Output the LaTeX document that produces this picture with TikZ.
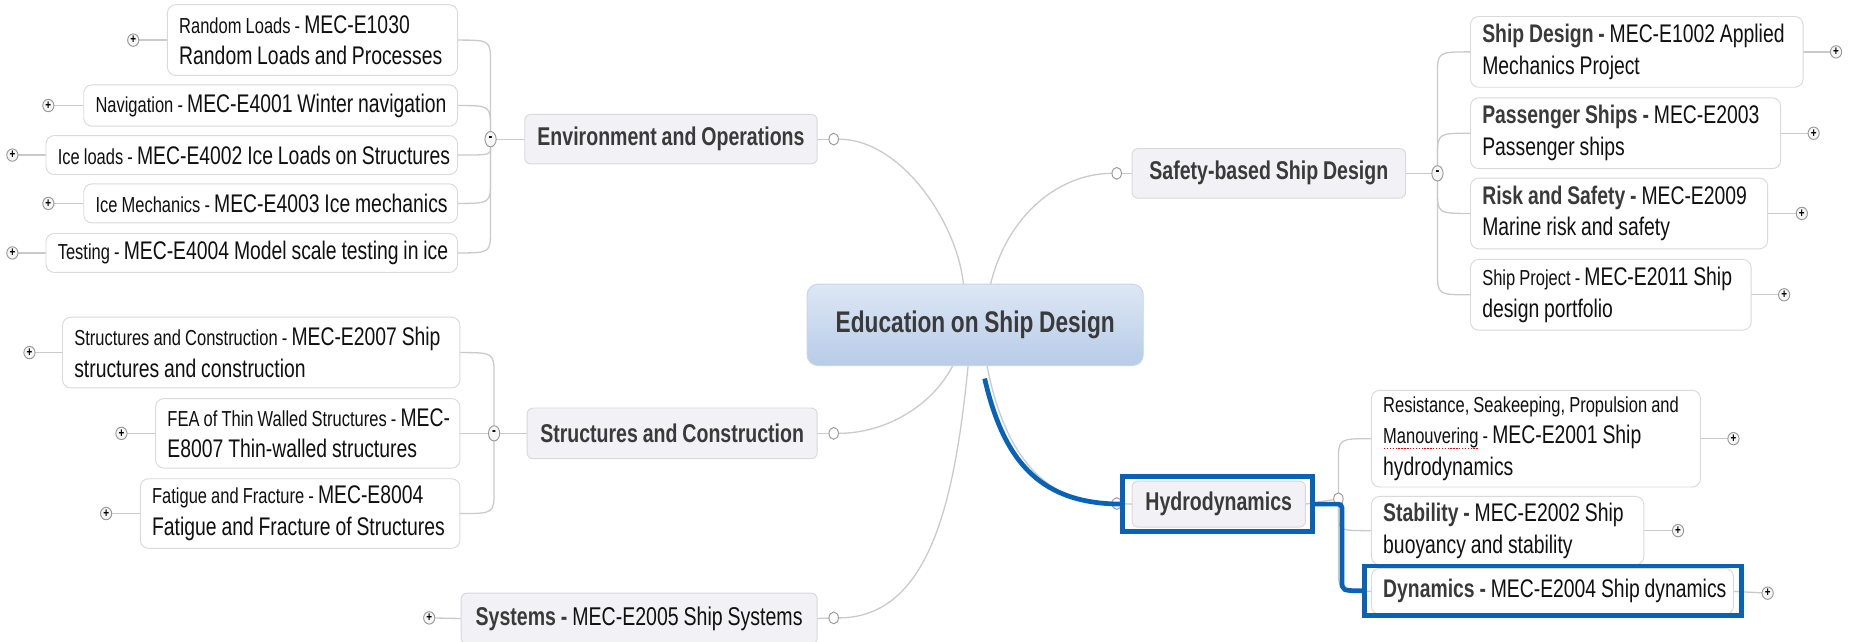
\documentclass[tikz,border=0pt]{standalone}
\usepackage{fontspec}
\setmainfont{Liberation Sans}[FakeStretch=0.76,WordSpace=0.9]
\usetikzlibrary{calc,shapes.geometric}
\definecolor{connc}{HTML}{CACACA}
\definecolor{boxline}{HTML}{DADADA}
\definecolor{branchfill}{HTML}{F1F1F6}
\definecolor{branchline}{HTML}{D8D8DE}
\definecolor{rootTop}{HTML}{DDE7F5}
\definecolor{rootBot}{HTML}{B7CCE8}
\definecolor{rootline}{HTML}{C9D6E8}
\definecolor{hl}{HTML}{0862B8}
\definecolor{txt}{HTML}{101010}
\definecolor{btxt}{HTML}{3A3A3A}
\definecolor{circline}{HTML}{999999}
\definecolor{circfill}{HTML}{F6F6F6}
\newcommand{\smf}{\fontsize{18.4}{26.9}\selectfont}
\newcommand{\lgf}{\fontsize{21.6}{26.9}\selectfont}
\newcommand{\bd}{\bfseries\color{btxt}}
\newlength\spw
\newcommand\spellmark[1]{\settowidth\spw{#1}\leavevmode\rlap{\raisebox{-4.5pt}{\color{red}\hbox to\spw{\xleaders\hbox to 2.4pt{\hss\rule{1.2pt}{1.2pt}\hss}\hfill}}}#1}
\pgfdeclarelayer{bgfill}
\pgfdeclarelayer{links}
\pgfsetlayers{bgfill,links,main}
\tikzset{
  leaf/.style={draw=boxline, fill=white, rounded corners=7pt, line width=0.8pt, inner xsep=10pt, inner ysep=0pt, outer sep=0pt, align=left, font=\lgf, text=txt, anchor=north west, execute at begin node={\spaceskip=0pt\xspaceskip=0pt\relax}},
  branch/.style={draw=branchline, fill=branchfill, rounded corners=5pt, line width=0.8pt, inner sep=0pt, outer sep=0pt, align=center, font=\fontsize{21.8}{26}\selectfont\bfseries, text=btxt, anchor=north west, execute at begin node={\spaceskip=0pt\xspaceskip=0pt\relax}},
  rootbox/.style={draw=rootline, top color=rootTop, bottom color=rootBot, rounded corners=9pt, line width=0.8pt, inner sep=0pt, outer sep=0pt, font=\fontsize{25.3}{30}\selectfont\bfseries, text=btxt, anchor=north west},
  plusc/.style={ellipse, draw=circline, fill=circfill, line width=0.8pt, minimum width=9.5pt, minimum height=10.5pt, inner sep=0pt, outer sep=0pt, font=\fontsize{11}{11}\selectfont\bfseries, text=black},
  minusc/.style={ellipse, draw=circline, fill=circfill, line width=0.8pt, minimum width=9.5pt, minimum height=13pt, inner sep=0pt, outer sep=0pt, font=\fontsize{13}{13}\selectfont\bfseries, text=black},
  openc/.style={ellipse, draw=circline, fill=white, line width=0.8pt, minimum width=8pt, minimum height=10pt, inner sep=0pt, outer sep=0pt},
  conn/.style={draw=connc, line width=1.1pt},
  hlbox/.style={draw=hl, line width=4pt, inner sep=0pt, outer sep=0pt, anchor=north west},
  hlline/.style={draw=hl, line width=4pt}
}
\begin{document}
\begin{tikzpicture}[x=1pt,y=-1pt]
\begin{pgfonlayer}{bgfill}
\fill[white] (0,0) rectangle (1568,543.6);
\end{pgfonlayer}
\useasboundingbox (0,0) rectangle (1568,543.6);

% root
\node[rootbox, minimum width=285pt, minimum height=69pt] (root) at (684.5,241) {Education on Ship Design};

% ---------- Environment and Operations
\node[leaf, text width=226pt, minimum height=60pt] (rl) at (142,4) {\mbox{{\smf Random Loads - }MEC-E1030}\\\mbox{Random Loads and Processes}};
\node[leaf, text width=297pt, minimum height=35pt] (nv) at (71,72) {\mbox{{\smf Navigation - }MEC-E4001 Winter navigation}};
\node[leaf, text width=329pt, minimum height=33pt] (il) at (39,115) {\mbox{{\smf Ice loads - }MEC-E4002 Ice Loads on Structures}};
\node[leaf, text width=297pt, minimum height=33pt] (im) at (71,156) {\mbox{{\smf Ice Mechanics - }MEC-E4003 Ice mechanics}};
\node[leaf, text width=329pt, minimum height=33pt] (ts) at (39,198) {\mbox{{\smf Testing - }MEC-E4004 Model scale testing in ice}};
\node[plusc] (prl) at (113,34) {+};
\node[plusc] (pnv) at (41,89.5) {+};
\node[plusc] (pil) at (10.5,131.5) {+};
\node[plusc] (pim) at (41,172.5) {+};
\node[plusc] (pts) at (10.5,214.5) {+};
\node[minusc] (me) at (416,118) {-};
\node[branch, minimum width=248pt, minimum height=42pt] (env) at (445,97) {Environment and Operations};
\node[openc] (oe) at (707,118) {};

% ---------- Structures and Construction
\node[leaf, text width=317pt, minimum height=60pt] (sc) at (53,269) {\mbox{{\smf Structures and Construction - }MEC-E2007 Ship}\\\mbox{structures and construction}};
\node[leaf, text width=238pt, minimum height=59pt] (fea) at (132,338) {\mbox{{\smf FEA of Thin Walled Structures - }MEC-}\\\mbox{E8007 Thin-walled structures}};
\node[leaf, text width=251pt, minimum height=59pt] (ff) at (119,406) {\mbox{{\smf Fatigue and Fracture - }MEC-E8004}\\\mbox{Fatigue and Fracture of Structures}};
\node[plusc] (psc) at (25,299) {+};
\node[plusc] (pfea) at (103,367.5) {+};
\node[plusc] (pff) at (90,435.5) {+};
\node[minusc] (ms) at (419,367.5) {-};
\node[branch, minimum width=246pt, minimum height=43pt] (str) at (447,346) {Structures and Construction};
\node[openc] (os) at (707,367.5) {};

% ---------- Systems
\node[branch, minimum width=302pt, minimum height=43pt] (sys) at (391,503) {\mbox{Systems - {\mdseries\color{txt}MEC-E2005 Ship Systems}}};
\node[plusc] (psys) at (364,524) {+};
\node[openc] (osys) at (707,524) {};

% ---------- Safety-based Ship Design
\node[branch, minimum width=232pt, minimum height=42pt] (saf) at (960,126) {Safety-based Ship Design};
\node[openc] (osf) at (947,147) {};
\node[minusc] (msf) at (1219,147) {-};
\node[leaf, text width=262pt, minimum height=60pt] (sd) at (1247,14) {\mbox{{\bd Ship Design -} MEC-E1002 Applied}\\\mbox{Mechanics Project}};
\node[leaf, text width=243pt, minimum height=60pt] (ps) at (1247,83) {\mbox{{\bd Passenger Ships -} MEC-E2003}\\\mbox{Passenger ships}};
\node[leaf, text width=232pt, minimum height=60pt] (rs) at (1247,151) {\mbox{{\bd Risk and Safety -} MEC-E2009}\\\mbox{Marine risk and safety}};
\node[leaf, text width=218pt, minimum height=60pt] (sp) at (1247,220) {\mbox{{\smf Ship Project - }MEC-E2011 Ship}\\\mbox{design portfolio}};
\node[plusc] (psd) at (1557,44) {+};
\node[plusc] (pps) at (1538,113) {+};
\node[plusc] (prs) at (1528,181) {+};
\node[plusc] (psp) at (1513,250) {+};

% ---------- Hydrodynamics
\node[openc] (oh) at (947,427) {};
\node[branch, minimum width=147pt, minimum height=39pt] (hyd) at (960,408) {Hydrodynamics};
\node[openc] (mh) at (1135,423) {};
\node[leaf, text width=259pt, minimum height=82pt] (res) at (1163,331) {\mbox{\smf Resistance, Seakeeping, Propulsion and}\\\mbox{{\smf \spellmark{Manouvering} - }MEC-E2001 Ship}\\\mbox{hydrodynamics}};
\node[leaf, text width=211pt, minimum height=58pt] (stb) at (1163,421) {\mbox{{\bd Stability -} MEC-E2002 Ship}\\\mbox{buoyancy and stability}};
\node[leaf, text width=287pt, minimum height=39pt] (dyn) at (1163,482) {\mbox{{\bd Dynamics -} MEC-E2004 Ship dynamics}};
\node[plusc] (pres) at (1470,372) {+};
\node[plusc] (pstb) at (1423,450) {+};
\node[plusc] (pdyn) at (1499,503) {+};

% highlight boxes
\node[hlbox, minimum width=161pt, minimum height=47pt] (hbox) at (952,404) {};
\node[hlbox, minimum width=320pt, minimum height=42pt] (dbox) at (1157,480) {};
\coordinate (bstart) at ($(root.south)+(8,11)$);
\coordinate (bcorner) at ($(hbox.east -| mh)+(3,0)$);

% ---------- connectors
\begin{pgfonlayer}{links}
% root to branches
\draw[conn] (oe) .. controls +(58,0) and +(-5,-51) .. ($(root.north)+(-10,0)$);
\draw[conn] ($(root.north)+(13,0)$) .. controls +(15,-61) and +(-47,0) .. (osf);
\draw[conn] ($(root.south)+(-19,0)$) .. controls +(-18,35) and +(43,0) .. (os);
\draw[conn] ($(root.south)+(-6,0)$) .. controls +(-11,110) and +(83,0) .. (osys);
\draw[conn] ($(root.south)+(10,0)$) .. controls +(15,78) and +(-59,0) .. (oh);
% environment
\draw[conn] (oe) -- (env.east);
\draw[conn] (me) -- (env.west);
\draw[conn] (rl.east) .. controls (me |- rl.east) .. ($(me |- rl.east)+(0,20)$) -- (me);
\draw[conn] (nv.east) .. controls (me |- nv.east) .. ($(me |- nv.east)+(0,20)$) -- (me);
\draw[conn] (il.east) .. controls (me |- il.east) .. (me);
\draw[conn] (im.east) .. controls (me |- im.east) .. ($(me |- im.east)+(0,-20)$) -- (me);
\draw[conn] (ts.east) .. controls (me |- ts.east) .. ($(me |- ts.east)+(0,-20)$) -- (me);
\draw[conn] (prl) -- (rl.west);
\draw[conn] (pnv) -- (nv.west);
\draw[conn] (pil) -- (il.west);
\draw[conn] (pim) -- (im.west);
\draw[conn] (pts) -- (ts.west);
% structures
\draw[conn] (os) -- (str.east);
\draw[conn] (ms) -- (str.west);
\draw[conn] (sc.east) .. controls (ms |- sc.east) .. ($(ms |- sc.east)+(0,20)$) -- (ms);
\draw[conn] (fea.east) -- (ms);
\draw[conn] (ff.east) .. controls (ms |- ff.east) .. ($(ms |- ff.east)+(0,-20)$) -- (ms);
\draw[conn] (psc) -- (sc.west);
\draw[conn] (pfea) -- (fea.west);
\draw[conn] (pff) -- (ff.west);
% systems
\draw[conn] (osys) -- (sys.east);
\draw[conn] (psys) -- (sys.west);
% safety
\draw[conn] (osf) -- (saf.west);
\draw[conn] (saf.east) -- (msf);
\draw[conn] (sd.west) .. controls (msf |- sd.west) .. ($(msf |- sd.west)+(0,20)$) -- (msf);
\draw[conn] (ps.west) .. controls (msf |- ps.west) .. ($(msf |- ps.west)+(0,20)$) -- (msf);
\draw[conn] (rs.west) .. controls (msf |- rs.west) .. ($(msf |- rs.west)+(0,-20)$) -- (msf);
\draw[conn] (sp.west) .. controls (msf |- sp.west) .. ($(msf |- sp.west)+(0,-20)$) -- (msf);
\draw[conn] (sd.east) -- (psd);
\draw[conn] (ps.east) -- (pps);
\draw[conn] (rs.east) -- (prs);
\draw[conn] (sp.east) -- (psp);
% hydrodynamics
\draw[conn] (oh) -- (hyd.west);
\draw[conn] (hyd.east) -- (mh);
\draw[conn] (res.west) .. controls (mh |- res.west) .. ($(mh |- res.west)+(0,20)$) -- (mh);
\draw[conn] (stb.west) .. controls (mh |- stb.west) .. ($(mh |- stb.west)+(0,-14)$) -- (mh);
\draw[conn] (dyn.west) .. controls (mh |- dyn.west) .. ($(mh |- dyn.west)+(0,-20)$) -- (mh);
\draw[conn] (res.east) -- (pres);
\draw[conn] (stb.east) -- (pstb);
\draw[conn] (dyn.east) -- (pdyn);
\end{pgfonlayer}

% blue highlight connectors
\draw[hlline] (bstart) .. controls +(17,74) and +(-67,0) .. (hbox.west);
\draw[hlline, rounded corners=3pt] (hbox.east) -- (bcorner) -- ($(bcorner |- dbox.west)+(0,-12)$) .. controls (bcorner |- dbox.west) .. (dbox.west);
\end{tikzpicture}
\end{document}
